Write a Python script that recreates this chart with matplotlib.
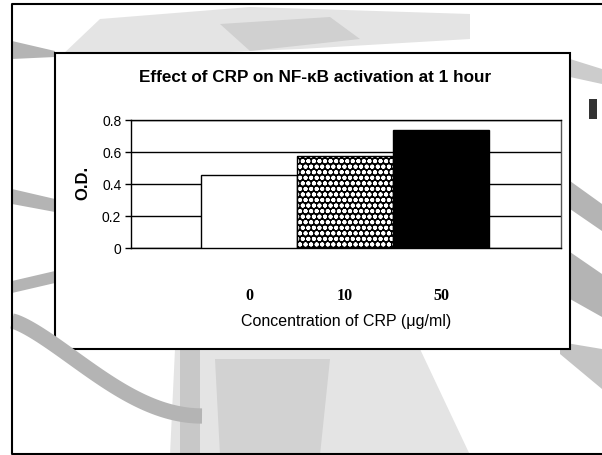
import matplotlib
matplotlib.use("Agg")
import matplotlib.pyplot as plt
from matplotlib.patches import Rectangle, Polygon
import numpy as np

# Data
categories = ["0", "10", "50"]
od_values = [0.455, 0.573, 0.737]
y_ticks = [0, 0.2, 0.4, 0.6, 0.8]
y_tick_labels = ["0", "0.2", "0.4", "0.6", "0.8"]
title = "Effect of CRP on NF-\u03baB activation at 1 hour"
x_label = "Concentration of CRP (\u03bcg/ml)"
y_label = "O.D."

plt.rcParams['hatch.linewidth'] = 1.3

fig = plt.figure(figsize=(6.02, 4.56), dpi=100)
fig.patch.set_facecolor('white')

# Background slide decoration (gray swirls)
bg = fig.add_axes([0, 0, 1, 1], zorder=0)
bg.set_xlim(0, 602)
bg.set_ylim(456, 0)
bg.axis('off')
dense = '#b4b4b4'
light = '#e4e4e4'
# top speckled strip
bg.add_patch(Polygon([(100, 20), (250, 8), (470, 15), (470, 40), (300, 50), (150, 56), (60, 58)],
                     closed=True, color=light, lw=0))
bg.add_patch(Polygon([(220, 25), (330, 18), (360, 40), (250, 52)], closed=True, color='#d0d0d0', lw=0))
bg.add_patch(Polygon([(12, 42), (55, 52), (55, 58), (12, 60)], closed=True, color=dense, lw=0))
# left bands
bg.add_patch(Polygon([(12, 190), (55, 200), (55, 213), (12, 205)], closed=True, color=dense, lw=0))
bg.add_patch(Polygon([(12, 282), (55, 272), (55, 284), (12, 294)], closed=True, color=dense, lw=0))
t = np.linspace(0, 1, 100)
cx = 12 + 190 * t
cy = 322 + 95 * np.sin(np.pi / 2 * t) ** 1.3
bg.plot(cx, cy, color=dense, lw=11, solid_capstyle='butt')
# bottom speckled area
bg.add_patch(Polygon([(175, 350), (420, 350), (470, 456), (170, 456)], closed=True, color=light, lw=0))
bg.add_patch(Rectangle((180, 350), 20, 106, color='#c8c8c8', lw=0))
bg.add_patch(Polygon([(215, 360), (330, 360), (320, 456), (220, 456)], closed=True, color='#d2d2d2', lw=0))
# right bands
bg.add_patch(Polygon([(570, 60), (602, 70), (602, 85), (570, 78)], closed=True, color='#cccccc', lw=0))
bg.add_patch(Polygon([(570, 182), (602, 205), (602, 232), (570, 210)], closed=True, color=dense, lw=0))
bg.add_patch(Polygon([(570, 253), (602, 275), (602, 318), (570, 300)], closed=True, color=dense, lw=0))
bg.add_patch(Polygon([(560, 343), (602, 350), (602, 390), (560, 355)], closed=True, color='#c4c4c4', lw=0))
bg.add_patch(Rectangle((589, 100), 8, 20, color='#333333', lw=0))
# outer border
bg.plot([606, 12, 12, 606], [5, 5, 455, 455], color='black', lw=1.5)
# white chart box
bg.add_patch(Rectangle((55, 54), 515, 296, facecolor='white', ec='black', lw=1.5))

# Chart axes
ax = fig.add_axes([131 / 602, 1 - 249 / 456, 430 / 602, 128 / 456], zorder=1)
ax.set_facecolor('white')
x = np.arange(len(categories))
ax.bar(x[0], od_values[0], width=1.0, color='white', edgecolor='black', linewidth=1.0, zorder=3)
ax.bar(x[1], od_values[1], width=1.0, color='black', edgecolor='white', hatch='ooo', linewidth=0, zorder=3)
ax.bar(x[1], od_values[1], width=1.0, fill=False, edgecolor='black', linewidth=1.0, zorder=4)
ax.bar(x[2], od_values[2], width=1.0, color='black', edgecolor='black', linewidth=1.0, zorder=3)

ax.set_xlim(-1.23, 3.25)
ax.set_ylim(0, 0.8)
ax.set_yticks(y_ticks)
ax.set_yticklabels(y_tick_labels, fontsize=10, family='Liberation Sans')
ax.set_xticks(x)
ax.set_xticklabels(categories, fontsize=11.5, family='Liberation Serif', fontweight='bold')
ax.tick_params(axis='x', length=0, pad=28)
ax.tick_params(axis='y', length=4, width=1, direction='out', pad=3)
ax.yaxis.grid(True, color='black', lw=1.0, zorder=1)
ax.set_axisbelow(True)
for s in ax.spines.values():
    s.set_color('black')
    s.set_linewidth(1.0)
ax.spines['right'].set_color('#555555')

fig.text(315 / 602, 1 - 77 / 456, title, ha='center', va='center', fontsize=12.3,
         fontweight='bold', family=['Liberation Sans', 'DejaVu Sans'])
fig.text(83 / 602, 1 - 183 / 456, y_label, ha='center', va='center', rotation=90,
         fontsize=12, fontweight='bold', family='Liberation Sans')
fig.text(346 / 602, 1 - 322 / 456, x_label, ha='center', va='center', fontsize=11.5,
         family=['Liberation Sans', 'DejaVu Sans'])

fig.savefig('out.png', dpi=100)
